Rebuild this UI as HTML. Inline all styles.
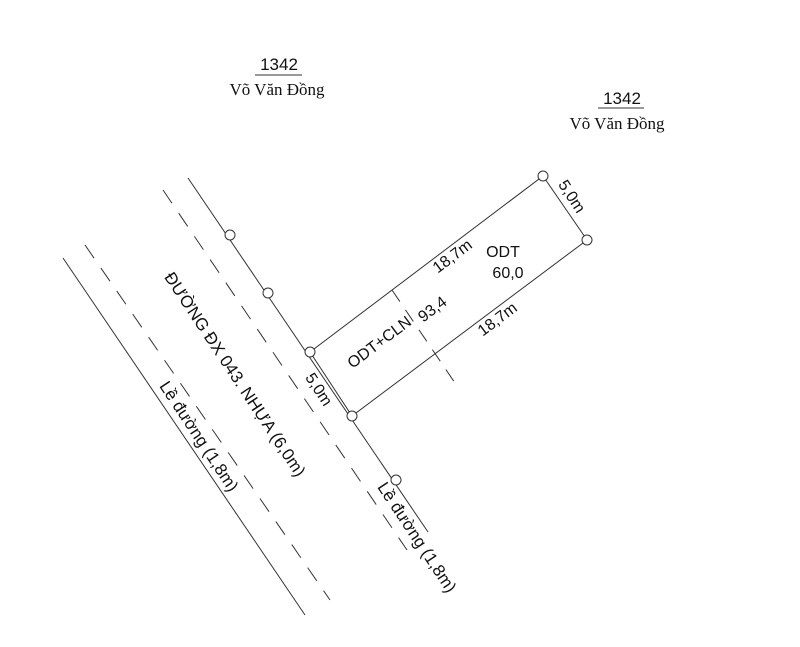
<!DOCTYPE html>
<html><head><meta charset="utf-8"><style>
html,body{margin:0;padding:0;background:#fff}
svg{display:block}
text{font-family:"Liberation Sans",sans-serif;fill:#111}
.s{font-family:"Liberation Serif",serif}
</style></head><body>
<svg width="800" height="647" viewBox="0 0 800 647" xmlns="http://www.w3.org/2000/svg">
<g stroke="#333" stroke-width="1" fill="none">
<line x1="63" y1="258" x2="305" y2="615"/>
<line x1="85" y1="245" x2="330" y2="600" stroke-dasharray="16,12"/>
<line x1="163" y1="190" x2="407" y2="550" stroke-dasharray="16,12"/>
<line x1="188" y1="178" x2="428" y2="532"/>
<polygon points="310,352 352,416 587,240 543,176"/>
<line x1="392" y1="290" x2="455" y2="383" stroke-dasharray="14,10"/>
<g fill="#fff">
<circle cx="230" cy="235" r="5"/><circle cx="268" cy="293" r="5"/>
<circle cx="310" cy="352" r="5"/><circle cx="352" cy="416" r="5"/>
<circle cx="396" cy="480" r="5"/><circle cx="543" cy="176" r="5"/>
<circle cx="587" cy="240" r="5"/>
</g>
<line x1="255" y1="75" x2="302" y2="75"/>
<line x1="598" y1="108" x2="644" y2="108"/>
</g>
<text x="279" y="70" font-size="17" text-anchor="middle">1342</text>
<text class="s" x="277" y="95" font-size="17" text-anchor="middle">Võ Văn Đồng</text>
<text x="622" y="104" font-size="17" text-anchor="middle">1342</text>
<text class="s" x="617" y="129" font-size="17" text-anchor="middle">Võ Văn Đồng</text>
<text x="503" y="257" font-size="16" text-anchor="middle">ODT</text>
<text x="508" y="278" font-size="16" text-anchor="middle">60,0</text>
<g font-size="16" text-anchor="middle" dominant-baseline="middle">
<text transform="translate(453,257) rotate(-37)">18,7m</text>
<text transform="translate(498,320) rotate(-37)">18,7m</text>
<text transform="translate(380,343) rotate(-37)">ODT+CLN</text>
<text transform="translate(433,310) rotate(-37)">93,4</text>
<text transform="translate(571,197) rotate(57)">5,0m</text>
<text transform="translate(318,390) rotate(57)">5,0m</text>
</g>
<g font-size="17" text-anchor="middle" dominant-baseline="middle">
<text transform="translate(234,375) rotate(56.5)">ĐƯỜNG ĐX 043. NHỰA (6,0m)</text>
<text transform="translate(198,437) rotate(56.5)">Lề đường (1,8m)</text>
<text transform="translate(416,538) rotate(56.5)">Lề đường (1,8m)</text>
</g>
</svg>
</body></html>
